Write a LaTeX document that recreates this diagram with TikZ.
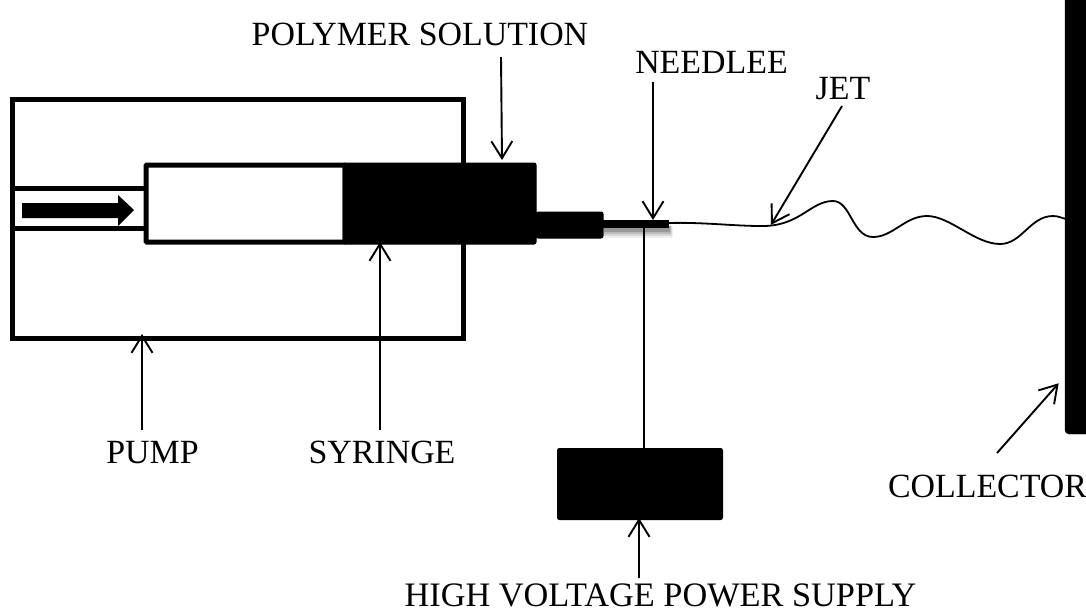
\documentclass[tikz,border=0pt]{standalone}
\usepackage{fontspec}
\setmainfont{Liberation Serif}
\usetikzlibrary{arrows.meta}
\tikzset{
  x=1pt,y=-1pt,
  thickbox/.style={draw=black,line width=5pt,fill=white,inner sep=0pt,outer sep=0pt},
  solidbox/.style={draw=black,fill=black,line width=1pt,rounded corners=2pt,inner sep=0pt,outer sep=0pt},
  lbl/.style={font=\fontsize{33.9}{38}\selectfont,inner sep=0pt,text=black,anchor=base},
  wire/.style={draw=black,line width=1.9pt},
  pointer/.style={draw=black,line width=1.9pt,-{Straight Barb[length=17pt,width=21pt,line width=1.9pt]},shorten >=-1pt},
  jetline/.style={draw=black,line width=1.8pt}
}
\begin{document}
\begin{tikzpicture}
\useasboundingbox (0,0) rectangle (1086,611);
\node[thickbox,minimum width=451pt,minimum height=239pt] (pump) at (237.5,219) {};
\draw[draw=black,line width=5pt] (12,188) -- (146,188);
\draw[draw=black,line width=5pt] (12,228) -- (146,228);
\fill[white] (15,190.5) rectangle (143,225.5);
\fill[black] (22,203) -- (118,203) -- (118,195) -- (134,210) -- (118,226) -- (118,218) -- (22,218) -- cycle;
\node[thickbox,rounded corners=1pt,minimum width=199pt,minimum height=77pt] (barrel) at (245.5,203.5) {};
\node[solidbox,minimum width=193pt,minimum height=81pt] (solution) at (439.5,203.5) {};
\node[solidbox,minimum width=67pt,minimum height=26pt] (hub) at (569.5,225) {};
% needle shadow
\fill[black,opacity=.06] (604,226) rectangle (673,238);
\fill[black,opacity=.10] (604,226) rectangle (672,236);
\fill[black,opacity=.14] (604,226) rectangle (671,234);
\fill[black,opacity=.18] (604,226) rectangle (670,232);
\node[fill=black,inner sep=0pt,outer sep=0pt,minimum width=66pt,minimum height=8pt] (needle) at (636,224) {};
\coordinate (jetstart) at (669,223);
\coordinate (jetend) at (1066,219);
\draw[jetline] (jetstart) .. controls (700,222) and (735,226) .. (760,226)
 .. controls (800,227) and (810,201) .. (833,201)
 .. controls (851,201) and (852,237) .. (873,237)
 .. controls (893,237) and (905,216) .. (927,216)
 .. controls (950,216) and (975,244) .. (1000,244)
 .. controls (1022,244) and (1030,216) .. (1053,216)
 .. controls (1058,216) and (1062,218) .. (jetend);
\draw[fill=black,rounded corners=4pt] (1065,-10) rectangle (1100,434);
\node[solidbox,minimum width=165pt,minimum height=71pt] (hv) at (640,484) {};
\coordinate (needlewire) at (644,226);
\coordinate (hvtop) at (644,450);
\draw[wire] (needlewire) -- (hvtop);
% labels
\node[lbl] (lpoly) at (420,45) {POLYMER SOLUTION};
\node[lbl] (lneedle) at (711.5,73) {NEEDLEE};
\node[lbl] (ljet) at (843,99) {JET};
\node[lbl] (lpump) at (152.5,463) {PUMP};
\node[lbl] (lsyr) at (382,463) {SYRINGE};
\node[lbl] (lcoll) at (987.5,497) {COLLECTOR};
\node[lbl,font=\fontsize{34.3}{38}\selectfont] (lhv) at (660.5,606.5) {HIGH VOLTAGE POWER SUPPLY};
% pointers
\coordinate (a1) at (501,57);  \coordinate (a2) at (502,159);
\coordinate (b1) at (653,82);  \coordinate (b2) at (653,219);
\coordinate (c1) at (842,106); \coordinate (c2) at (771.5,224);
\coordinate (d1) at (142,430); \coordinate (d2) at (142,335);
\coordinate (e1) at (380,430); \coordinate (e2) at (380,243);
\coordinate (f1) at (997,453); \coordinate (f2) at (1058,384);
\coordinate (g1) at (639,578); \coordinate (g2) at (639,519);
\draw[pointer] (a1) -- (a2);
\draw[pointer] (b1) -- (b2);
\draw[pointer] (c1) -- (c2);
\draw[pointer] (d1) -- (d2);
\draw[pointer] (e1) -- (e2);
\draw[pointer] (f1) -- (f2);
\draw[pointer] (g1) -- (g2);
\end{tikzpicture}
\end{document}
